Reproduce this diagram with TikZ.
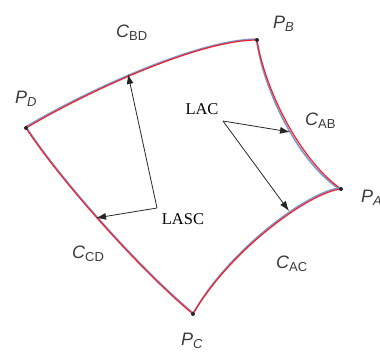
\documentclass[tikz,border=0pt]{standalone}
\usepackage{fontspec}
\setmainfont{Liberation Sans}
\newfontfamily\serifx{Liberation Serif}
\usetikzlibrary{arrows.meta}
\definecolor{txtgrey}{HTML}{3A3A3A}
\definecolor{cblue}{HTML}{7C97CC}
\definecolor{cred}{HTML}{F0202A}
\newcommand{\plab}[2]{{\fontsize{18}{18}\selectfont\itshape #1}\raisebox{-3.5pt}{\fontsize{13}{13}\selectfont\itshape #2}}
\newcommand{\clab}[2]{{\fontsize{18}{18}\selectfont\itshape #1}\raisebox{-3.5pt}{\fontsize{13}{13}\selectfont #2}}
\begin{document}
\begin{tikzpicture}[x=1pt,y=-1pt,
  pt/.style={circle,fill=black!85,inner sep=0pt,minimum size=4pt},
  lab/.style={text=txtgrey,inner sep=0pt,anchor=base west},
  note/.style={inner sep=0pt,font=\serifx\fontsize{16.5}{16.5}\selectfont},
  redc/.style={draw=cred,line width=1.2pt},
  bluec/.style={draw=cblue,line width=1.6pt},
  arr/.style={draw=black!85,line width=0.8pt,-{Latex[length=10pt,width=7pt]}},
  lin/.style={draw=black!85,line width=0.8pt}]
\useasboundingbox (0,0) rectangle (380,351);
% points
\coordinate (D) at (26,128);
\coordinate (B) at (257,40);
\coordinate (A) at (341,189);
\coordinate (C) at (193,314);
% curves: blue (offset) under red
\draw[bluec] ([shift={(-0.6,-1)}]D) .. controls (90,89) and (200,39) .. ([shift={(0,-0.8)}]B);
\draw[redc] (D) .. controls (90,90) and (200,40) .. (B);
\draw[bluec] ([shift={(-0.5,0)}]B) .. controls (263.5,90) and (298,162) .. ([shift={(-1,0.5)}]A);
\draw[redc] (B) .. controls (265,90) and (300,160) .. (A);
\draw[bluec] ([shift={(0,-1.2)}]A) .. controls (310,190.3) and (230,248.3) .. ([shift={(0,-0.5)}]C);
\draw[redc] (A) .. controls (310,192) and (230,250) .. (C);
\draw[bluec] ([shift={(0.6,-0.6)}]C) .. controls (140.5,269.5) and (60.5,179.5) .. ([shift={(0.5,-0.5)}]D);
\draw[redc] (C) .. controls (140,270) and (60,180) .. (D);
% point markers
\node[pt] (nD) at (D) {};
\node[pt] (nB) at (B) {};
\node[pt] (nA) at (A) {};
\node[pt] (nC) at (C) {};
% labels
\node[lab] (lPB) at (273,28) {\plab{P}{B}};
\node[lab] (lPD) at (15,103) {\plab{P}{D}};
\node[lab] (lPA) at (361,202) {\plab{P}{A}};
\node[lab] (lPC) at (181,345) {\plab{P}{C}};
\node[lab] (lCBD) at (116,37) {\clab{C}{BD}};
\node[lab] (lCAB) at (305,125) {\clab{C}{AB}};
\node[lab] (lCCD) at (72,258) {\clab{C}{CD}};
\node[lab] (lCAC) at (276,268) {\clab{C}{AC}};
% annotations
\node[note] (LAC) at (202,109) {LAC};
\node[note] (LASC) at (183,219) {LASC};
\coordinate (lacO) at (223,121);
\coordinate (tAB) at (290,132);
\coordinate (tAC) at (289,211);
\coordinate (lascO) at (157,208);
\coordinate (tBD) at (128,74);
\coordinate (tCD) at (96,218);
\draw[arr] (lacO) -- (tAB);
\draw[arr] (lacO) -- (tAC);
\draw[arr] (lascO) -- (tBD);
\draw[arr] (lascO) -- (tCD);
\end{tikzpicture}
\end{document}
